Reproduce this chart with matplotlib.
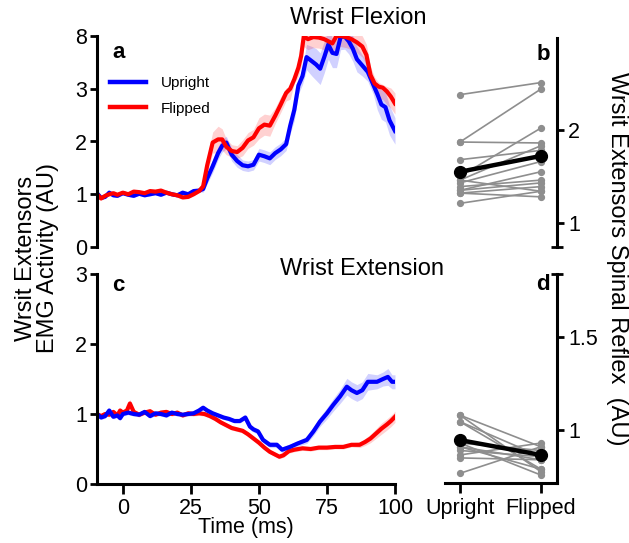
import numpy as np
import matplotlib
matplotlib.use("Agg")
import matplotlib.pyplot as plt
from matplotlib.lines import Line2D

plt.rcParams['font.family'] = ['Liberation Sans', 'DejaVu Sans']

# ---------------- data ----------------
# Panel a: Wrist Flexion (EMG, AU)
up_a_t = [-9.5, -8, -6.5, -5, -3.5, -2, 0, 2, 4, 6, 8, 10, 12, 14, 16, 18, 20, 22, 24, 26, 28,
          29.5, 31, 33, 35, 36.5, 38, 40, 42, 44, 46, 48, 50, 52, 54, 56, 58, 60,
          61.5, 63, 64.5, 66, 67.5, 69.5, 71, 72.5, 74, 75.5, 77, 78.5, 80, 81.5, 83, 84.5, 86,
          88, 90, 92, 93.5, 95, 96.5, 98, 100]
up_a = [1.02, 0.93, 0.95, 1.03, 0.98, 0.97,
        1.02, 0.99, 0.97, 1.01, 0.98, 1.00, 1.02, 0.99, 1.03, 1.00, 0.98, 1.03, 1.00, 1.06, 1.07,
        1.10, 1.30, 1.53, 1.78, 1.92, 1.98,
        1.75, 1.63, 1.55, 1.53, 1.56, 1.75, 1.72, 1.68, 1.78, 1.85, 1.95,
        2.30, 2.60, 3.30, 4.20, 6.00, 5.60, 5.30, 4.90, 6.00, 7.20, 6.40, 6.30, 7.90, 7.95, 7.50, 6.80, 5.80,
        5.20, 4.60, 3.40, 2.90, 2.70, 2.65, 2.40, 2.20]
up_a_sem = [0.03, 0.03, 0.03, 0.03, 0.03, 0.03,
            0.03, 0.03, 0.03, 0.03, 0.03, 0.03, 0.03, 0.03, 0.03, 0.03, 0.03, 0.03, 0.03, 0.03, 0.03,
            0.06, 0.10, 0.12, 0.12, 0.12, 0.12,
            0.12, 0.12, 0.10, 0.10, 0.10, 0.12, 0.12, 0.12, 0.12, 0.12, 0.12,
            0.15, 0.20, 0.40, 0.80, 1.20, 1.40, 1.50, 1.50, 1.50, 1.40, 1.40, 1.30, 1.20, 1.20, 1.20, 1.20, 1.20,
            1.00, 0.90, 0.50, 0.30, 0.28, 0.28, 0.28, 0.25]

fl_a_t = [-9.5, -8, -6.5, -5, -3.5, -2, 0, 2, 4, 6, 8, 10, 12, 14, 16, 18, 20, 22, 24, 26, 28,
          29.5, 31, 33, 35, 36.5, 38, 40, 42, 44, 46, 48, 50, 52, 54, 56, 58, 60,
          61.5, 63, 64.5, 65.5, 66.5, 68, 70, 72, 74, 75.5, 77, 78.5, 80, 82, 84, 86,
          88, 89.5, 91, 92.5, 94, 95.5, 97, 98.5, 100]
fl_a = [1.00, 0.92, 0.97, 1.00, 1.02, 0.99,
        1.03, 1.00, 1.05, 1.04, 1.02, 1.06, 1.05, 1.07, 1.03, 1.00, 0.98, 0.94, 0.95, 1.00, 1.06,
        1.15, 1.55, 1.98, 2.04, 2.04, 1.90,
        1.82, 1.80, 1.88, 2.02, 2.08, 2.25, 2.32, 2.30, 2.49, 2.70, 2.92,
        3.00, 3.90, 5.00, 6.10, 8.00, 7.70, 7.90, 7.85, 7.70, 7.50, 7.30, 8.00, 8.00, 7.90, 7.70, 7.40,
        7.00, 6.20, 4.30, 3.50, 3.20, 3.10, 2.95, 2.85, 2.72]
fl_a_sem = [0.03, 0.03, 0.03, 0.03, 0.03, 0.03,
            0.03, 0.03, 0.03, 0.03, 0.03, 0.03, 0.03, 0.03, 0.03, 0.03, 0.03, 0.03, 0.03, 0.03, 0.03,
            0.08, 0.15, 0.20, 0.25, 0.20, 0.15,
            0.12, 0.12, 0.15, 0.15, 0.15, 0.20, 0.20, 0.20, 0.15, 0.15, 0.15,
            0.20, 0.40, 0.80, 1.00, 1.00, 1.00, 1.00, 1.00, 1.00, 1.00, 1.00, 1.00, 1.00, 1.00, 1.00, 1.00,
            1.00, 1.00, 0.80, 0.60, 0.40, 0.30, 0.25, 0.22, 0.20]

# Panel c: Wrist Extension (EMG, AU)
up_c_t = [-9.5, -8, -6.5, -5, -3.5, -2, -1,
          0, 2, 4, 6, 8, 10, 12, 14, 16, 18, 20, 22, 24, 26, 28,
          29.5, 31, 33, 35, 37, 39, 41, 43, 45,
          46.7, 48, 49.7, 51.5, 54, 56.6, 58.5, 61.4, 64.3, 67.6, 70, 72.4, 75, 77.3, 79.8,
          82.3, 84, 86, 88, 90, 93.4, 95.6, 97.4, 98.9, 100]
up_c = [1.00, 0.95, 0.97, 1.05, 0.96, 0.98, 0.94,
        1.00, 1.02, 1.00, 0.99, 1.03, 0.97, 1.01, 1.00, 0.98, 1.02, 1.00, 0.99, 1.00, 1.01, 1.05,
        1.09, 1.05, 1.01, 0.98, 0.95, 0.93, 0.90, 0.90, 0.95,
        0.82, 0.78, 0.75, 0.63, 0.56, 0.56, 0.49, 0.53, 0.58, 0.63, 0.75, 0.89, 1.01, 1.13, 1.25,
        1.39, 1.34, 1.30, 1.34, 1.46, 1.46, 1.50, 1.53, 1.46, 1.46]
up_c_sem = [0.03, 0.03, 0.03, 0.03, 0.03, 0.03, 0.03,
            0.03, 0.03, 0.03, 0.03, 0.03, 0.03, 0.03, 0.03, 0.03, 0.03, 0.03, 0.03, 0.03, 0.03, 0.03,
            0.03, 0.03, 0.03, 0.03, 0.03, 0.03, 0.03, 0.03, 0.03,
            0.04, 0.04, 0.04, 0.04, 0.04, 0.04, 0.04, 0.04, 0.04, 0.05, 0.06, 0.07, 0.08, 0.09, 0.10,
            0.12, 0.12, 0.12, 0.12, 0.12, 0.10, 0.10, 0.12, 0.10, 0.10]

fl_c_t = [-9.5, -8, -6.5, -5, -3.5, -2, -1,
          0, 1.5, 2.6, 4,
          6, 8, 10, 12, 14, 16, 18, 20, 22, 24, 26, 28, 30, 32, 34, 36, 38, 40, 42, 44, 46, 48, 50, 52, 54, 56,
          57.5, 59, 61, 63, 66, 69, 72, 75, 78, 81, 84, 87, 89, 91, 93, 95, 97, 98.5, 100]
fl_c = [1.00, 0.97, 1.00, 0.99, 1.03, 0.98, 1.05,
        1.02, 1.05, 1.15, 1.03,
        0.99, 1.02, 1.04, 0.99, 1.02, 1.03, 1.00, 1.02, 0.98, 1.01, 1.00, 1.01, 1.00, 0.97, 0.93,
        0.88, 0.84, 0.80, 0.78, 0.76, 0.71, 0.65, 0.59, 0.52, 0.46, 0.42,
        0.39, 0.41, 0.47, 0.49, 0.51, 0.50, 0.52, 0.52, 0.53, 0.53, 0.56, 0.56, 0.60, 0.65, 0.72,
        0.79, 0.85, 0.90, 0.96]
fl_c_sem = [0.03, 0.03, 0.03, 0.03, 0.03, 0.03, 0.03,
            0.03, 0.04, 0.06, 0.04,
            0.03, 0.03, 0.03, 0.03, 0.03, 0.03, 0.03, 0.03, 0.03, 0.03, 0.03, 0.03, 0.03, 0.03, 0.03,
            0.03, 0.03, 0.03, 0.03, 0.03, 0.03, 0.03, 0.03, 0.03, 0.03, 0.03,
            0.03, 0.03, 0.03, 0.03, 0.03, 0.03, 0.03, 0.03, 0.03, 0.03, 0.03, 0.04, 0.05, 0.06, 0.07,
            0.08, 0.08, 0.08, 0.08]

# Panels b / d: spinal reflex per subject
conditions = ['Upright', 'Flipped']
up_b = [2.38, 1.87, 1.87, 1.68, 1.50, 1.46, 1.43, 1.39, 1.35, 1.32, 1.32, 1.35, 1.21, 1.46]
fl_b = [2.51, 2.44, 1.86, 1.78, 2.02, 1.83, 1.66, 1.46, 1.55, 1.39, 1.28, 1.43, 1.34, 1.34]
mean_b = [1.55, 1.72]
up_d = [1.08, 1.08, 1.045, 1.045, 0.93, 0.93, 0.91, 0.89, 0.866, 0.85, 0.767, 0.91]
fl_d = [0.776, 0.91, 0.857, 0.79, 0.89, 0.758, 0.84, 0.857, 0.93, 0.84, 0.91, 0.79]
mean_d = [0.946, 0.866]

a_yticks = [0, 1, 2, 3, 8]
c_yticks = [0, 1, 2, 3]
time_ticks = [0, 25, 50, 75, 100]

# ---------------- figure ----------------
W, H = 629, 543
fig = plt.figure(figsize=(W / 100, H / 100), dpi=100)

def rect(l, r, t, b):
    return [l / W, (H - b) / H, (r - l) / W, (b - t) / H]

ax_a = fig.add_axes(rect(97, 395, 36, 247))
ax_c = fig.add_axes(rect(97, 395, 274, 484))
ax_b = fig.add_axes(rect(445, 557, 38, 247))
ax_d = fig.add_axes(rect(445, 557, 274, 483))

BLUE = '#0000ff'
RED = '#ff0000'
GRAY = '#8e8e8e'
TICK_FS = 15.5
LAB_FS = 17

def fwd(v):
    v = np.asarray(v, dtype=float)
    return np.where(v <= 3, v, 3 + (v - 3) / 5.0)

def inv(u):
    u = np.asarray(u, dtype=float)
    return np.where(u <= 3, u, 3 + (u - 3) * 5.0)

def draw_trace(ax, t, v, s, color):
    t = np.array(t); v = np.array(v); s = np.array(s)
    ax.fill_between(t, v - s, v + s, color=color, alpha=0.18, lw=0)
    ax.plot(t, v, color=color, lw=3.0, solid_joinstyle='round')

for ax in (ax_a, ax_c):
    for sp in ('top', 'right'):
        ax.spines[sp].set_visible(False)
    ax.spines['left'].set_linewidth(2.2)
    ax.spines['bottom'].set_linewidth(2.2)
    ax.set_xlim(-9.5, 100)
    ax.tick_params(axis='y', labelsize=TICK_FS, width=2, length=5, pad=2)
    ax.tick_params(axis='x', labelsize=TICK_FS, width=2, length=7, pad=3)

# panel a
ax_a.set_yscale('function', functions=(fwd, inv))
ax_a.set_ylim(0, 8)
ax_a.set_yticks(a_yticks)
ax_a.set_yticklabels([str(v) for v in a_yticks])
ax_a.yaxis.set_minor_locator(matplotlib.ticker.NullLocator())
ax_a.spines['bottom'].set_visible(False)
ax_a.set_xticks([])
draw_trace(ax_a, up_a_t, up_a, up_a_sem, BLUE)
draw_trace(ax_a, fl_a_t, fl_a, fl_a_sem, RED)
handles = [Line2D([], [], color=BLUE, lw=3.2), Line2D([], [], color=RED, lw=3.2)]
ax_a.legend(handles, conditions, loc='upper left', bbox_to_anchor=(0.045, 0.81),
            frameon=False, fontsize=11, handlelength=2.3, handletextpad=1.0,
            labelspacing=0.75, borderpad=0, borderaxespad=0)
ax_a.text(0.05, 0.92, 'a', transform=ax_a.transAxes, fontsize=16, fontweight='bold',
          ha='left', va='center')

# panel c
ax_c.set_ylim(0, 3)
ax_c.set_yticks(c_yticks)
ax_c.set_xticks(time_ticks)
draw_trace(ax_c, fl_c_t, fl_c, fl_c_sem, RED)
draw_trace(ax_c, up_c_t, up_c, up_c_sem, BLUE)
ax_c.set_xlabel('Time (ms)', fontsize=TICK_FS, labelpad=-1)
ax_c.text(0.05, 0.945, 'c', transform=ax_c.transAxes, fontsize=16, fontweight='bold',
          ha='left', va='center')

# panels b, d
xpos = [0, 1]
for ax, up, fl, mn, lim in ((ax_b, up_b, fl_b, mean_b, (0.74, 2.99)),
                            (ax_d, up_d, fl_d, mean_d, (0.715, 1.84))):
    for u, f in zip(up, fl):
        ax.plot(xpos, [u, f], color=GRAY, lw=1.2, marker='o', ms=4.2, mec=GRAY, mfc=GRAY)
    ax.plot(xpos, mn, color='black', lw=3.2, marker='o', ms=8.5, zorder=5)
    ax.set_xlim(-0.185, 1.2)
    ax.set_ylim(*lim)
    for sp in ('top', 'left'):
        ax.spines[sp].set_visible(False)
    ax.spines['right'].set_linewidth(2.2)
    ax.spines['bottom'].set_linewidth(2.2)
    ax.yaxis.tick_right()
    ax.tick_params(axis='y', labelsize=TICK_FS, width=2, length=5, pad=3)
    ax.tick_params(axis='x', labelsize=TICK_FS, width=2, length=7, pad=4)

ax_b.spines['bottom'].set_visible(False)
ax_b.set_xticks([])
ax_b.set_yticks([1, 2])
ax_b.set_yticks([0.74], minor=True)
ax_b.tick_params(axis='y', which='minor', direction='inout', length=9, width=2)
ax_b.text(0.875, 0.92, 'b', transform=ax_b.transAxes, fontsize=16, fontweight='bold',
          ha='center', va='center')

ax_d.set_xticks(xpos)
ax_d.set_xticklabels(conditions)
ax_d.set_yticks([1, 1.5])
ax_d.set_yticklabels(['1', '1.5'])
ax_d.set_yticks([1.84], minor=True)
ax_d.tick_params(axis='y', which='minor', direction='inout', length=9, width=2)
ax_d.text(0.875, 0.952, 'd', transform=ax_d.transAxes, fontsize=16, fontweight='bold',
          ha='center', va='center')

# titles and labels
fig.text(358 / W, 1 - 18 / H, 'Wrist Flexion', fontsize=LAB_FS, ha='center', va='center')
fig.text(362 / W, 1 - 269 / H, 'Wrist Extension', fontsize=LAB_FS, ha='center', va='center')
fig.text(37 / W, 1 - 258 / H, 'Wrsit Extensors\nEMG Activity (AU)', fontsize=LAB_FS,
         rotation=90, ha='center', va='center', multialignment='center', linespacing=1.0)
fig.text(617 / W, 1 - 259 / H, 'Wrsit Extensors Spinal Reflex  (AU)', fontsize=LAB_FS,
         rotation=270, ha='center', va='center')

fig.savefig('out.png', dpi=100)
